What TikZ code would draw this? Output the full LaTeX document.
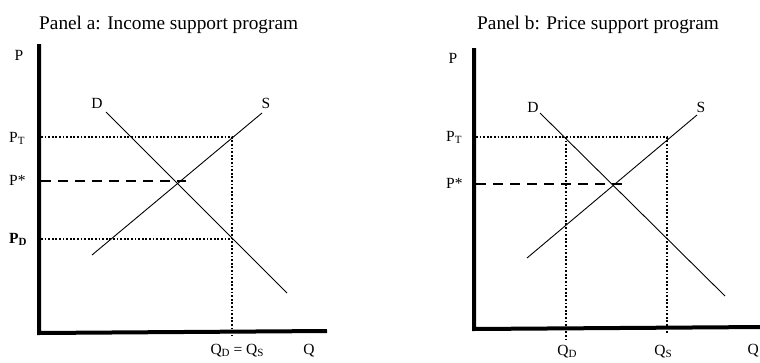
\documentclass[tikz,border=0pt]{standalone}
\usepackage{fontspec}
\setmainfont{Liberation Serif}
\usetikzlibrary{positioning}

\newcommand{\lowsub}[1]{\raisebox{-0.35ex}{\fontsize{11}{12}\selectfont #1}}

\tikzset{
  axis/.style={line width=4pt},
  curve/.style={line width=0.9pt},
  guide/.style={line width=1.8pt, dash pattern=on 1.8pt off 1.8pt},
  eqline/.style={line width=2pt, dash pattern=on 10pt off 7pt},
  lbl/.style={font=\fontsize{15.5}{17}\selectfont, inner sep=0pt},
  ttl/.style={font=\fontsize{19.3}{21}\selectfont, inner sep=0pt}
}

\begin{document}
\begin{tikzpicture}[x=1pt,y=-1pt]
  \useasboundingbox (0,0) rectangle (760,362);

  % Panel a: income support
  \node[ttl, anchor=base west] (titleA) at (39,29) {Panel a: Income support program};
  \coordinate (oA) at (39,331);
  \coordinate (yA) at (39,44);
  \coordinate (xA) at (327,331);
  \draw[axis] (yA) -- (oA |- 0,333) -- (xA);
  \node[lbl, anchor=base] (pA) at (19,60) {P};
  \node[lbl, anchor=base] (qA) at (309,354) {Q};

  \coordinate (dA1) at (106,112);
  \coordinate (dA2) at (287,293);
  \coordinate (sA1) at (92,255);
  \coordinate (sA2) at (262,113);
  \draw[curve] (dA1) -- (dA2);
  \draw[curve] (sA1) -- (sA2);
  \node[lbl, anchor=base] (demA) at (97,108) {D};
  \node[lbl, anchor=base] (supA) at (266,108) {S};

  \node[lbl, anchor=base west] (ptA) at (9,142) {P\lowsub{T}};
  \node[lbl, anchor=base west] (psA) at (9,185) {P*};
  \node[lbl, anchor=base west] (pdA) at (9,243) {\textbf{P\lowsub{\textbf{D}}}};
  \coordinate (ptA0) at (41,137);
  \coordinate (ptA1) at (232,137);
  \coordinate (psA0) at (41,181);
  \coordinate (psA1) at (186,181);
  \coordinate (pdA0) at (41,239);
  \coordinate (pdA1) at (232,239);
  \coordinate (qA0) at (232,335);
  \draw[guide] (ptA0) -- (ptA1) -- (qA0);
  \draw[guide] (pdA0) -- (pdA1);
  \draw[eqline] (psA0) -- (psA1);
  \node[lbl, anchor=base] (qdsA) at (237,354) {Q\lowsub{D} = Q\lowsub{S}};

  % Panel b: price support
  \node[ttl, anchor=base west] (titleB) at (477,29) {Panel b: Price support program};
  \coordinate (oB) at (474,327);
  \coordinate (yB) at (474,48);
  \coordinate (xB) at (764,327);
  \draw[axis] (yB) -- (oB |- 0,329) -- (xB);
  \node[lbl, anchor=base] (pB) at (453,63) {P};
  \node[lbl, anchor=base east] (qB) at (759,354) {Q};

  \coordinate (dB1) at (540,113);
  \coordinate (dB2) at (725,296);
  \coordinate (sB1) at (527,258);
  \coordinate (sB2) at (697,115);
  \draw[curve] (dB1) -- (dB2);
  \draw[curve] (sB1) -- (sB2);
  \node[lbl, anchor=base] (demB) at (533,112) {D};
  \node[lbl, anchor=base] (supB) at (701,112) {S};

  \node[lbl, anchor=base west] (ptB) at (446,141) {P\lowsub{T}};
  \node[lbl, anchor=base west] (psB) at (446,188) {P*};
  \coordinate (ptB0) at (476,137);
  \coordinate (ptB1) at (566,137);
  \coordinate (ptB2) at (667,137);
  \coordinate (psB0) at (476,184);
  \coordinate (psB1) at (622,184);
  \coordinate (qdB) at (566,340);
  \coordinate (qsB) at (667,334);
  \draw[guide] (ptB0) -- (ptB2) -- (qsB);
  \draw[guide] (ptB1) -- (qdB);
  \draw[eqline] (psB0) -- (psB1);
  \node[lbl, anchor=base] (qdlB) at (567,355) {Q\lowsub{D}};
  \node[lbl, anchor=base] (qslB) at (663,355) {Q\lowsub{S}};
\end{tikzpicture}
\end{document}
